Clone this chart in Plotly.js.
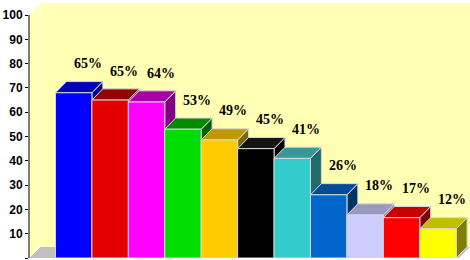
<!DOCTYPE html>
<html><head><meta charset="utf-8">
<script src="https://cdn.plot.ly/plotly-3.0.1.min.js"></script>
<style>html,body{margin:0;padding:0;background:#fff}#chart{width:470px;height:260px}</style>
</head><body><div id="chart"></div>
<script>
// ---- data ----
const barIndex = [0, 1, 2, 3, 4, 5, 6, 7, 8, 9, 10];
const values = [68, 65, 64.2, 53, 48.6, 45, 41, 26, 17.7, 16.6, 12];
const valueLabels = ['65%', '65%', '64%', '53%', '49%', '45%', '41%', '26%', '18%', '17%', '12%'];
const tickValues = [0, 10, 20, 30, 40, 50, 60, 70, 80, 90, 100];

// ---- styles ----
const frontColors = ['#0000FF', '#E20000', '#FF00FF', '#00DD00', '#FFCC00', '#000000', '#33CCCC', '#0066CC', '#CCCCFF', '#FF0000', '#FFFF00'];
const topColors   = ['#0000B8', '#950000', '#A800A8', '#008A00', '#BF9900', '#151515', '#339999', '#004C99', '#9999C0', '#C80000', '#BFBF00'];
const sideColors  = ['#00008A', '#700000', '#800080', '#006400', '#7F6600', '#000000', '#1F6B6B', '#003366', '#8080A8', '#800000', '#808000'];

const X0 = -1.227, X1 = 10.879, YTOP = 104.94;
const DX = 0.3, DY = 4.6, HW = 0.5;

const shapes = [];
// floor
shapes.push({type:'path', xref:'x', yref:'y', layer:'below',
  path:`M ${X0},0 L ${X0+DX},${DY} L ${X1},${DY} L ${X1-DX},0 Z`,
  fillcolor:'#C0C0C0', line:{width:0}});
// back wall
shapes.push({type:'path', xref:'x', yref:'y', layer:'below',
  path:`M ${X0+DX},${DY} L ${X0+DX},${YTOP} L ${X1},${YTOP} L ${X1},${DY} Z`,
  fillcolor:'#FFFFB3', line:{width:0}});
// left wall
shapes.push({type:'path', xref:'x', yref:'y', layer:'below',
  path:`M ${X0},0 L ${X0+DX},${DY} L ${X0+DX},${100+DY} L ${X0},100 Z`,
  fillcolor:'#FFFFB8', line:{color:'#FFFFE6', width:1}});
// side faces
barIndex.forEach((x, i) => {
  const v = values[i], r = x + HW;
  shapes.push({type:'path', xref:'x', yref:'y', layer:'below',
    path:`M ${r},0 L ${r+DX},${DY} L ${r+DX},${v+DY} L ${r},${v} Z`,
    fillcolor: sideColors[i], line:{color:'#D8D8D8', width:1}});
});
// top faces
barIndex.forEach((x, i) => {
  const v = values[i], l = x - HW, r = x + HW;
  shapes.push({type:'path', xref:'x', yref:'y', layer:'below',
    path:`M ${l},${v} L ${l+DX},${v+DY} L ${r+DX},${v+DY} L ${r},${v} Z`,
    fillcolor: topColors[i], line:{color:'#D8D8D8', width:1}});
});
// y axis line (0..100)
shapes.push({type:'line', xref:'paper', yref:'y', x0:0, x1:0, y0:0, y1:100,
  layer:'above', line:{color:'#000', width:1}});

const annotations = barIndex.map((x, i) => ({
  x: x, y: values[i], text: '<b>' + valueLabels[i] + '</b>', showarrow: false,
  xanchor: 'center', yanchor: 'middle', xshift: 14, yshift: 29,
  font: {family: '"Liberation Serif", serif', size: 14, color: '#000'}
}));

const trace = {
  type: 'bar', x: barIndex, y: values, width: 1,
  marker: {color: frontColors, line: {color: '#D8D8D8', width: 1}},
  hoverinfo: 'none'
};

const layout = {
  width: 470, height: 260,
  margin: {l: 29, r: 0, t: 3, b: 2, pad: 0},
  paper_bgcolor: '#FFFFFF', plot_bgcolor: '#FFFFFF',
  showlegend: false, bargap: 0,
  xaxis: {visible: false, range: [X0, X1], fixedrange: true},
  yaxis: {range: [0, YTOP], tickvals: tickValues, ticktext: tickValues.map(String),
    showgrid: false, zeroline: false, showline: false,
    ticks: 'outside', ticklen: 3, tickcolor: '#000', tickwidth: 1,
    tickfont: {family: '"Liberation Sans", Arial, sans-serif', size: 12, color: '#000', weight: 'bold'},
    fixedrange: true},
  shapes: shapes, annotations: annotations
};
Plotly.newPlot('chart', [trace], layout, {displayModeBar: false, staticPlot: true});
</script></body></html>
